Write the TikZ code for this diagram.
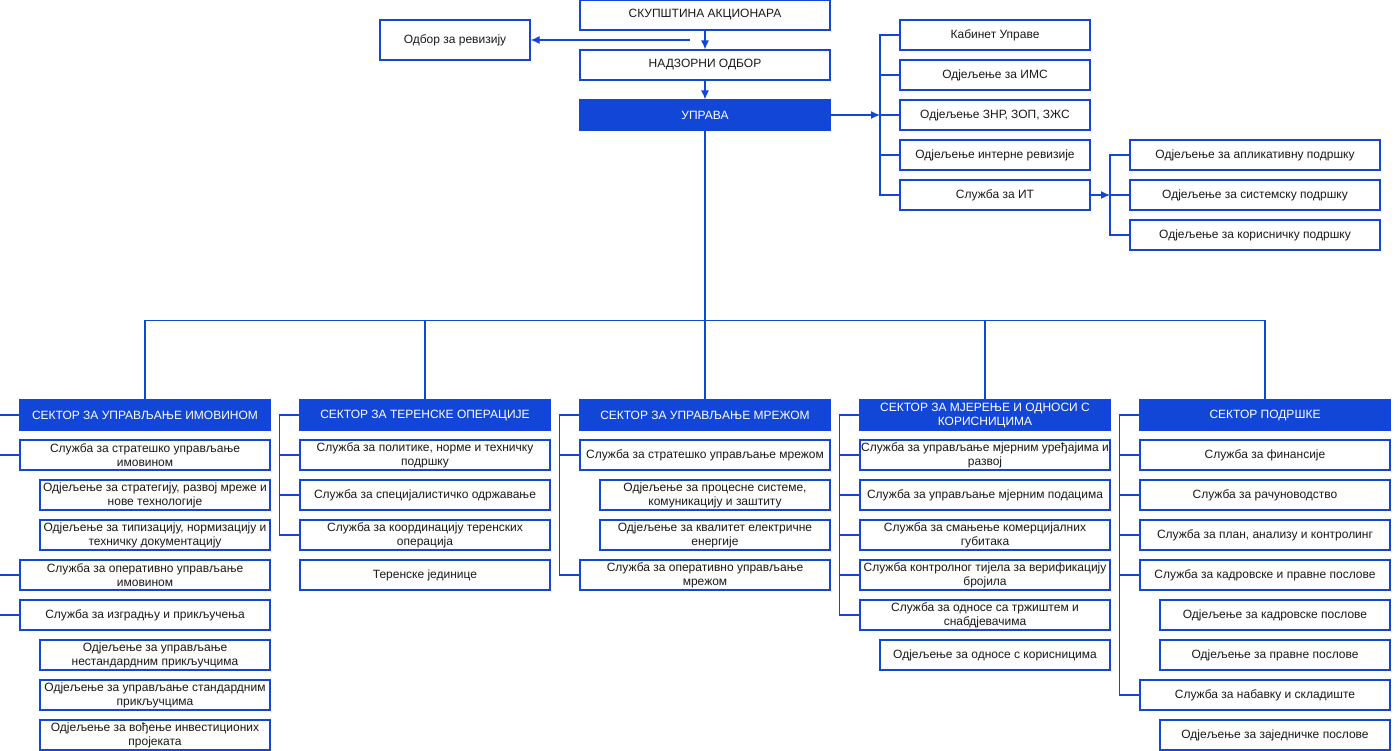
\documentclass[tikz,border=0pt]{standalone}
\usepackage{fontspec}
\setmainfont{Liberation Sans}
\usepackage{xcolor}
\usepackage{tikz}
\usetikzlibrary{arrows.meta}
\definecolor{orgblue}{RGB}{17,70,214}
\definecolor{orgtext}{RGB}{26,26,26}

\begin{document}
\begin{tikzpicture}[
      x=1pt,y=-1pt,
      unit/.style={draw=orgblue,fill=white,line width=1.2pt,align=center,
                   inner sep=1pt,minimum height=30pt,text=orgtext,
                   font=\fontsize{12}{14}\selectfont,minimum width=250pt},
      subunit/.style={unit,minimum width=230pt},
      head/.style={unit,fill=orgblue,text=white},
      link/.style={draw=orgblue,line width=1.2pt},
      arr/.style={link,-{Latex[length=9pt,width=8pt]}}]

    \useasboundingbox (0,0) rectangle (1398,750);

    \node[unit] (sku) at (705,15) {СКУПШТИНА АКЦИОНАРА};
    \node[unit,minimum width=150pt,minimum height=40pt] (odb) at (455,40)
      {Одбор за ревизију};
    \node[unit] (nad) at (705,65) {НАДЗОРНИ ОДБОР};
    \node[head] (upr) at (705,115) {УПРАВА};

    \node[unit,minimum width=190pt] (kab) at (995,35) {Кабинет Управе};
    \node[unit,minimum width=190pt] (ims) at (995,75) {Одјељење за ИМС};
    \node[unit,minimum width=190pt] (znr) at (995,115) {Одјељење ЗНР, ЗОП, ЗЖС};
    \node[unit,minimum width=190pt] (irev) at (995,155) {Одјељење интерне ревизије};
    \node[unit,minimum width=190pt] (it) at (995,195) {Служба за ИТ};

    \node[unit] (apl) at (1255,155) {Одјељење за апликативну подршку};
    \node[unit] (sis) at (1255,195) {Одјељење за системску подршку};
    \node[unit] (kor) at (1255,235) {Одјељење за корисничку подршку};

    \node[head] (s1) at (145,415) {СЕКТОР ЗА УПРАВЉАЊЕ ИМОВИНОМ};
    \node[unit] (s1a) at (145,455) {Служба за стратешко управљање\\имовином};
    \node[subunit] (s1a1) at (155,495) {Одјељење за стратегију, развој мреже и\\нове технологије};
    \node[subunit] (s1a2) at (155,535) {Одјељење за типизацију, нормизацију и\\техничку документацију};
    \node[unit] (s1b) at (145,575) {Служба за оперативно управљање\\имовином};
    \node[unit] (s1c) at (145,615) {Служба за изградњу и прикључења};
    \node[subunit] (s1c1) at (155,655) {Одјељење за управљање\\нестандардним прикључцима};
    \node[subunit] (s1c2) at (155,695) {Одјељење за управљање стандардним\\прикључцима};
    \node[subunit] (s1c3) at (155,735) {Одјељење за вођење инвестиционих\\пројеката};

    \node[head] (s2) at (425,415) {СЕКТОР ЗА ТЕРЕНСКЕ ОПЕРАЦИЈЕ};
    \node[unit] (s2a) at (425,455) {Служба за политике, норме и техничку\\подршку};
    \node[unit] (s2b) at (425,495) {Служба за специјалистичко одржавање};
    \node[unit] (s2c) at (425,535) {Служба за координацију теренских\\операција};
    \node[unit] (s2d) at (425,575) {Теренске јединице};

    \node[head] (s3) at (705,415) {СЕКТОР ЗА УПРАВЉАЊЕ МРЕЖОМ};
    \node[unit] (s3a) at (705,455) {Служба за стратешко управљање мрежом};
    \node[subunit] (s3a1) at (715,495) {Одјељење за процесне системе,\\комуникацију и заштиту};
    \node[subunit] (s3a2) at (715,535) {Одјељење за квалитет електричне\\енергије};
    \node[unit] (s3b) at (705,575) {Служба за оперативно управљање\\мрежом};

    \node[head] (s4) at (985,415) {СЕКТОР ЗА МЈЕРЕЊЕ И ОДНОСИ С\\КОРИСНИЦИМА};
    \node[unit] (s4a) at (985,455) {Служба за управљање мјерним уређајима и\\развој};
    \node[unit] (s4b) at (985,495) {Служба за управљање мјерним подацима};
    \node[unit] (s4c) at (985,535) {Служба за смањење комерцијалних\\губитака};
    \node[unit] (s4d) at (985,575) {Служба контролног тијела за верификацију\\бројила};
    \node[unit] (s4e) at (985,615) {Служба за односе са тржиштем и\\снабдјевачима};
    \node[subunit] (s4e1) at (995,655) {Одјељење за односе с корисницима};

    \node[head] (s5) at (1265,415) {СЕКТОР ПОДРШКЕ};
    \node[unit] (s5a) at (1265,455) {Служба за финансије};
    \node[unit] (s5b) at (1265,495) {Служба за рачуноводство};
    \node[unit] (s5c) at (1265,535) {Служба за план, анализу и контролинг};
    \node[unit] (s5d) at (1265,575) {Служба за кадровске и правне послове};
    \node[subunit] (s5d1) at (1275,615) {Одјељење за кадровске послове};
    \node[subunit] (s5d2) at (1275,655) {Одјељење за правне послове};
    \node[unit] (s5e) at (1265,695) {Служба за набавку и складиште};
    \node[subunit] (s5e1) at (1275,735) {Одјељење за заједничке послове};

    \coordinate (rev) at (690,40);
    \coordinate (ubus) at (880,115);
    \coordinate (itbus) at (1110,195);

    \draw[arr] (sku) -- (nad);
    \draw[arr] (nad) -- (upr);
    \draw[arr] (rev) -- (odb);
    \draw[arr] (upr) -- (ubus);
    \foreach \r in {kab,ims,znr,irev,it}
      \draw[link] (ubus) |- (\r.west);
    \draw[arr] (it) -- (itbus);
    \foreach \r in {apl,sis,kor}
      \draw[link] (itbus) |- (\r.west);

    \foreach \s in {s1,s2,s3,s4,s5}
      \draw[link] (upr.south) -- ++(0,190) -| (\s.north);

    \foreach \c in {s1a,s1b,s1c}
      \draw[link] (s1.west) -- ++(-20,0) |- (\c.west);
    \foreach \c in {s2a,s2b,s2c}
      \draw[link] (s2.west) -- ++(-20,0) |- (\c.west);
    \foreach \c in {s3a,s3b}
      \draw[link] (s3.west) -- ++(-20,0) |- (\c.west);
    \foreach \c in {s4a,s4b,s4c,s4d,s4e}
      \draw[link] (s4.west) -- ++(-20,0) |- (\c.west);
    \foreach \c in {s5a,s5b,s5c,s5d,s5e}
      \draw[link] (s5.west) -- ++(-20,0) |- (\c.west);
  \end{tikzpicture}
\end{document}
